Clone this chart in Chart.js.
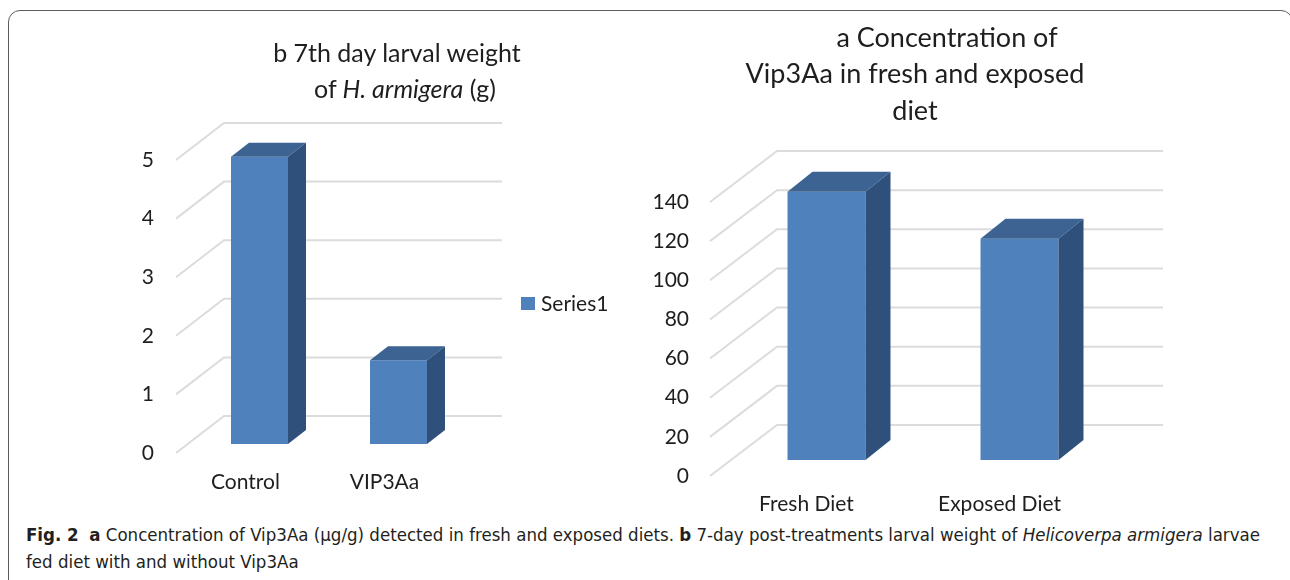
<!DOCTYPE html>
<html>
<head>
<meta charset="utf-8">
<script src="https://cdn.jsdelivr.net/npm/chart.js@4.4.1/dist/chart.umd.min.js"></script>
<style>
  body { margin: 0; background: #fff; width: 1290px; height: 580px; overflow: hidden; position: relative; font-family: Lato, sans-serif; color: #1e1e1e; }
  .frame { position: absolute; left: 8px; top: 10px; right: -3px; height: 640px; border: 1.5px solid #5c5c5c; border-radius: 12px; }
  canvas { position: absolute; top: 0; }
  #weightChart { left: 0; }
  #concChart { left: 640px; }
  .t { position: absolute; transform: translateX(-50%); white-space: nowrap; font-size: 25px; line-height: 30px; }
  .t.big { font-size: 27px; }
  .caption { position: absolute; left: 26px; top: 521px; white-space: nowrap; font-family: 'DejaVu Sans Condensed', sans-serif; font-size: 18.5px; line-height: 27px; color: #231f20; }
</style>
</head>
<body>
<div class="frame"></div>
<canvas id="weightChart" width="640" height="520"></canvas>
<canvas id="concChart" width="650" height="520"></canvas>

<div class="t" style="left:397px; top:37px">b 7th day larval weight</div>
<div class="t" style="left:405px; top:73px">of <i>H. armigera</i> (g)</div>
<div class="t big" style="left:947px; top:22px">a Concentration of</div>
<div class="t big" style="left:915px; top:58px">Vip3Aa in fresh and exposed</div>
<div class="t big" style="left:915px; top:95px">diet</div>

<div class="caption"><b>Fig. 2</b>&nbsp; <b>a</b> Concentration of Vip3Aa (µg/g) detected in fresh and exposed diets. <b>b</b> 7-day post-treatments larval weight of <i>Helicoverpa armigera</i> larvae<br>fed diet with and without Vip3Aa</div>

<script>
const seriesName = 'Series1'

// b: 7th day larval weight (g)
const weightLabels = ['Control', 'VIP3Aa']
const weightValues = [4.9, 1.43]
const weightTicks = [0, 5, 1]   // min, max, step

// a: Vip3Aa concentration
const concLabels = ['Fresh Diet', 'Exposed Diet']
const concValues = [137, 113]
const concTicks = [0, 140, 20]

const front = '#4f81bd'
const topFace = '#3c6392'
const sideFace = '#2f507a'
const font = { family: 'Lato, sans-serif', size: 21 }

// fake 3d: back wall lines, shifted bars, bar sides and caps
function depth(o) {
    return {
        id: 'depth',
        beforeDraw(chart) {
            const { ctx, chartArea: a, scales: { y } } = chart
            ctx.save()
            ctx.strokeStyle = '#dcdcdc'
            ctx.lineWidth = 2
            y.ticks.forEach(t => {
                const py = y.getPixelForValue(t.value)
                ctx.beginPath()
                ctx.moveTo(a.left, py)
                ctx.lineTo(a.left + o.dx, py - o.dy)
                ctx.lineTo(a.right + o.dx, py - o.dy)
                ctx.stroke()
            })
            ctx.restore()
        },
        beforeDatasetsDraw(chart) {
            chart.ctx.save()
            chart.ctx.translate(o.bx, -o.by)
        },
        afterDatasetsDraw(chart) {
            const ctx = chart.ctx
            const d = o.bar
            chart.getDatasetMeta(0).data.forEach(bar => {
                const { x, y, base, width } = bar.getProps(['x', 'y', 'base', 'width'], true)
                const l = x - width / 2, r = x + width / 2
                ctx.fillStyle = topFace
                ctx.beginPath()
                ctx.moveTo(l, y); ctx.lineTo(l + d[0], y - d[1]); ctx.lineTo(r + d[0], y - d[1]); ctx.lineTo(r, y)
                ctx.closePath(); ctx.fill()
                ctx.fillStyle = sideFace
                ctx.beginPath()
                ctx.moveTo(r, y); ctx.lineTo(r + d[0], y - d[1]); ctx.lineTo(r + d[0], base - d[1]); ctx.lineTo(r, base)
                ctx.closePath(); ctx.fill()
            })
            ctx.restore()
        }
    }
}

const legendBox = {
    id: 'legendBox',
    afterDraw(chart) {
        const ctx = chart.ctx
        ctx.save()
        ctx.fillStyle = front
        ctx.fillRect(521, 297, 14, 13)
        ctx.fillStyle = '#1e1e1e'
        ctx.font = '21px Lato, sans-serif'
        ctx.textBaseline = 'middle'
        ctx.fillText(chart.data.datasets[0].label, 541, 304)
        ctx.restore()
    }
}

function makeChart(id, labels, values, ticks, box, extra) {
    return new Chart(document.getElementById(id), {
        type: 'bar',
        data: {
            labels: labels,
            datasets: [{
                label: seriesName,
                data: values,
                backgroundColor: front,
                borderWidth: 0,
                barPercentage: box.barPct,
                categoryPercentage: 1,
                clip: false
            }]
        },
        options: {
            responsive: false,
            animation: false,
            events: [],
            layout: { padding: { left: 0, right: box.padRight, top: box.top, bottom: 0 } },
            plugins: { legend: { display: false }, tooltip: { enabled: false } },
            scales: {
                x: {
                    grid: { display: false, drawTicks: false },
                    border: { display: false },
                    ticks: { color: '#1e1e1e', font: font, padding: box.xPad, maxRotation: 0 },
                    afterFit: s => { s.height = box.xHeight }
                },
                y: {
                    min: ticks[0],
                    max: ticks[1],
                    grid: { display: false, drawTicks: false },
                    border: { display: false },
                    ticks: { stepSize: ticks[2], color: '#1e1e1e', font: font, padding: box.yPad },
                    afterFit: s => { s.width = box.yWidth }
                }
            }
        },
        plugins: [depth(box.depth)].concat(extra)
    })
}

makeChart('weightChart', weightLabels, weightValues, weightTicks, {
    barPct: 0.41, padRight: 186, top: 160, xHeight: 67, xPad: 17, yWidth: 176, yPad: 22,
    depth: { dx: 48, dy: 37, bx: 14, by: 9, bar: [18, 14] }
}, [legendBox])

makeChart('concChart', concLabels, concValues, concTicks, {
    barPct: 0.404, padRight: 194, top: 202, xHeight: 44, xPad: 16, yWidth: 70, yPad: 21,
    depth: { dx: 67, dy: 51, bx: 20, by: 16, bar: [25, 20] }
}, [])
</script>
</body>
</html>
